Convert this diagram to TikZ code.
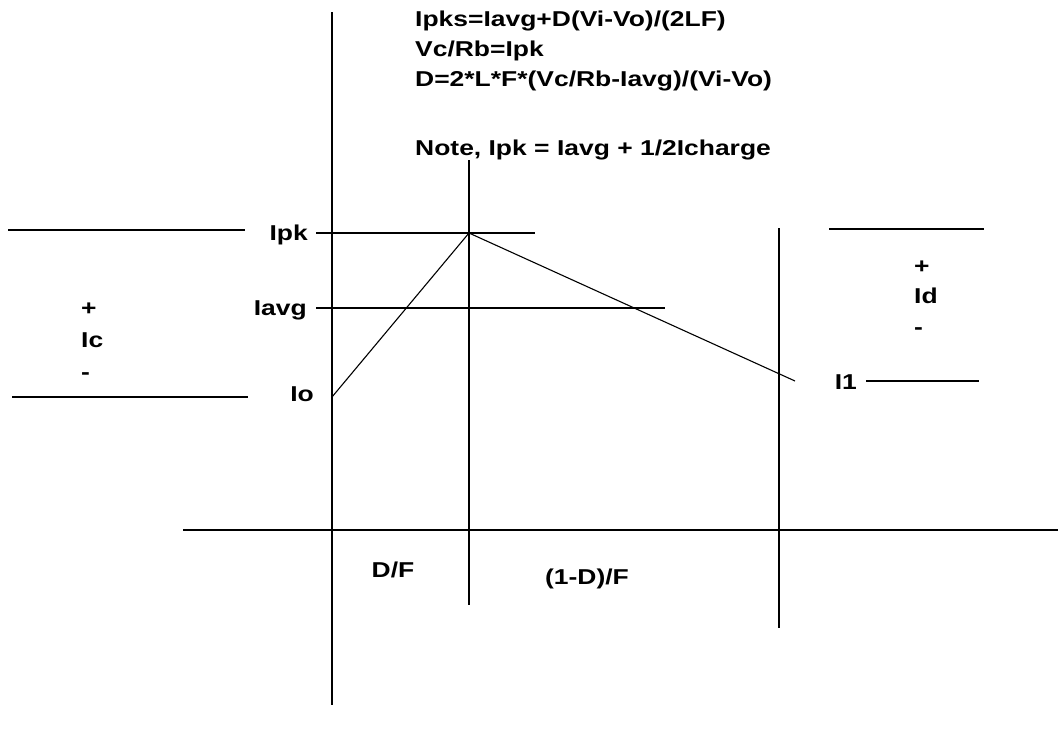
\documentclass[tikz,border=0pt]{standalone}
\usepackage{fontspec}
\setmainfont{Liberation Sans}
\newfontfamily\labfont[FakeStretch=1.23]{Liberation Sans}
\begin{document}
\begin{tikzpicture}[x=1pt,y=-1pt,
  ln/.style={line width=1.1pt,black},
  lbl/.style={font=\labfont\bfseries\fontsize{21.5}{25}\selectfont,inner sep=0pt}]
\useasboundingbox (0,0) rectangle (1058,734);
% axes and time markers
\coordinate (ytop) at (332,12);
\coordinate (ybot) at (332,705);
\coordinate (xl) at (183,530);
\coordinate (xr) at (1058,530);
\coordinate (m1t) at (469,160);
\coordinate (m1b) at (469,605);
\coordinate (m2t) at (779,228);
\coordinate (m2b) at (779,628);
\draw[ln] (ytop) -- (ybot);
\draw[ln] (xl) -- (xr);
\draw[ln] (m1t) -- (m1b);
\draw[ln] (m2t) -- (m2b);
% level lines
\coordinate (pkl) at (316,233);
\coordinate (pkr) at (535,233);
\coordinate (avl) at (316,308);
\coordinate (avr) at (665,308);
\draw[ln] (pkl) -- (pkr);
\draw[ln] (avl) -- (avr);
% capacitor-current bracket lines
\coordinate (ca) at (8,230);
\coordinate (cb) at (245,230);
\coordinate (cc) at (12,397);
\coordinate (cd) at (248,397);
\draw[ln] (ca) -- (cb);
\draw[ln] (cc) -- (cd);
% diode-current bracket lines
\coordinate (da) at (829,229);
\coordinate (db) at (984,229);
\coordinate (dc) at (866,381);
\coordinate (dd) at (979,381);
\draw[ln] (da) -- (db);
\draw[ln] (dc) -- (dd);
% inductor current waveform
\coordinate (w0) at (332,397);
\coordinate (w1) at (469,233);
\coordinate (w2) at (795,381);
\draw[ln] (w0) -- (w1) -- (w2);
% labels
\node[lbl,anchor=base east] (ipk) at (308,240) {Ipk};
\node[lbl,anchor=base east] (iavg) at (307,315) {Iavg};
\node[lbl,anchor=base east] (io) at (314,401) {Io};
\node[lbl,anchor=base west] (pc) at (81,315) {+};
\node[lbl,anchor=base west] (ic) at (81,347) {Ic};
\node[lbl,anchor=base west] (mc) at (81,379) {-};
\node[lbl,anchor=base west] (pd) at (914,273) {+};
\node[lbl,anchor=base west] (id) at (914,303) {Id};
\node[lbl,anchor=base west] (md) at (914,334) {-};
\node[lbl,anchor=base east] (i1) at (857,389) {I1};
\node[lbl,anchor=base] (df) at (393,577) {D/F};
\node[lbl,anchor=base] (odf) at (587,584) {(1-D)/F};
\node[lbl,anchor=base west] (eq1) at (415,26) {Ipks=Iavg+D(Vi-Vo)/(2LF)};
\node[lbl,anchor=base west] (eq2) at (415,56) {Vc/Rb=Ipk};
\node[lbl,anchor=base west] (eq3) at (415,86) {D=2*L*F*(Vc/Rb-Iavg)/(Vi-Vo)};
\node[lbl,anchor=base west] (eq4) at (415,155) {Note, Ipk = Iavg + 1/2Icharge};
\end{tikzpicture}
\end{document}
